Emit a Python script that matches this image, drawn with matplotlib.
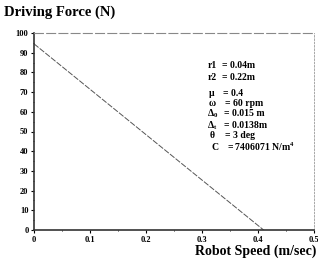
import numpy as np
import matplotlib.pyplot as plt
from matplotlib.ticker import MultipleLocator

speed = [0.0, 0.41]
force = [94.5, 0.0]

xticks = [0, 0.1, 0.2, 0.3, 0.4, 0.5]
xlabels = ['0', '0.1', '0.2', '0.3', '0.4', '0.5']
yticks = [0, 10, 20, 30, 40, 50, 60, 70, 80, 90, 100]

param_names = ['r1', 'r2', 'μ', 'ω', 'Δ$_0$', 'Δ$_t$', 'θ', 'C']
param_values = ['= 0.04m', '= 0.22m', '= 0.4', '= 60 rpm', '= 0.015 m',
                '= 0.0138m', '= 3 deg', '= 7406071 N/m$^4$']

# pixel layout of the parameter block (row y, name x, value x)
rows_y = [66, 78, 94, 104, 114, 126, 135.5, 147]
names_x = [208, 208, 209, 209, 207, 207, 210, 212]
vals_x = [222, 222, 223, 225, 224, 224, 225, 227]

plt.rcParams['font.family'] = 'Liberation Serif'
plt.rcParams['font.weight'] = 'bold'
plt.rcParams['mathtext.fontset'] = 'custom'
plt.rcParams['mathtext.rm'] = 'Liberation Serif:bold'
plt.rcParams['mathtext.it'] = 'Liberation Serif:bold:italic'
plt.rcParams['mathtext.default'] = 'regular'

fig = plt.figure(figsize=(3.18, 2.62), dpi=100)
ax = fig.add_axes([34/318, 32/262, 280/318, 197/262])

ax.plot(speed, force, color='#555555', lw=0.7, dashes=(6, 1.5))

ax.set_xlim(0, 0.5)
ax.set_ylim(0, 100)
ax.set_xticks(xticks)
ax.set_xticklabels(xlabels)
ax.set_yticks(yticks)
ax.xaxis.set_minor_locator(MultipleLocator(0.05))
ax.yaxis.set_minor_locator(MultipleLocator(5))
ax.tick_params(labelsize=6, length=2, width=0.8, direction='out', pad=2)
ax.tick_params(which='minor', length=1, width=0.6)
for lab in ax.get_xticklabels() + ax.get_yticklabels():
    lab.set_fontweight('heavy')

for side in ['left', 'bottom']:
    ax.spines[side].set_linewidth(1.2)
    ax.spines[side].set_color('#333333')
ax.spines['top'].set_color('#888888')
ax.spines['top'].set_linewidth(0.8)
ax.spines['top'].set_linestyle((0, (8, 3)))
ax.spines['right'].set_color('#999999')
ax.spines['right'].set_linewidth(0.6)
ax.spines['right'].set_linestyle((0, (2, 2)))

fig.text(4/318, 1 - 12/262, 'Driving Force (N)', fontsize=10.5, fontweight='bold',
         va='center', ha='left')
fig.text(316/318, 1 - 251/262, 'Robot Speed (m/sec)', fontsize=10, fontweight='bold',
         va='center', ha='right')

for name, val, y, nx, vx in zip(param_names, param_values, rows_y, names_x, vals_x):
    fig.text(nx/318, 1 - y/262, name, fontsize=7, fontweight='bold', va='center', ha='left')
    fig.text(vx/318, 1 - y/262, val, fontsize=7, fontweight='bold', va='center', ha='left')

plt.savefig('out.png', dpi=100)
